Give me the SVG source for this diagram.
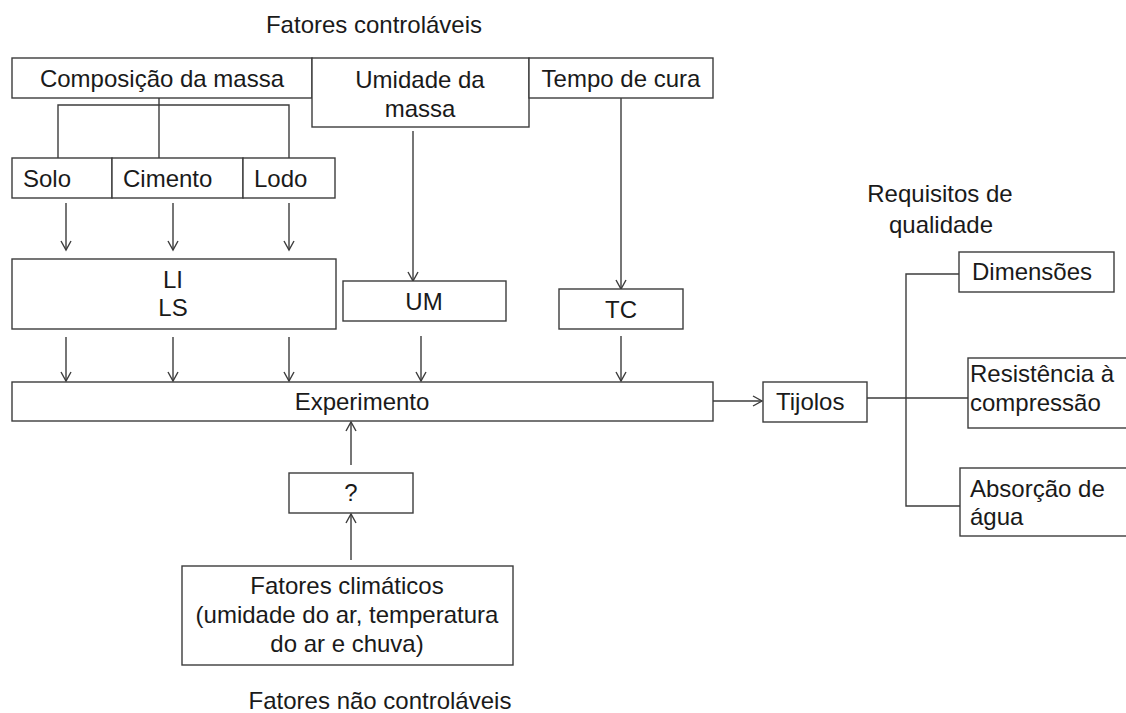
<svg xmlns="http://www.w3.org/2000/svg" width="1126" height="713" viewBox="0 0 1126 713">
<style>
.b{fill:#fff;stroke:#3c3c3c;stroke-width:1.4}
.t{font-family:"Liberation Sans",Arial,sans-serif;font-size:24px;fill:#1a1a1a}
.m{text-anchor:middle}
.c{fill:none;stroke:#3c3c3c;stroke-width:1.4}
.a{marker-end:url(#ah)}
</style>
<defs>
<marker id="ah" markerUnits="userSpaceOnUse" markerWidth="14" markerHeight="14" refX="11" refY="6" orient="auto" viewBox="0 0 14 12">
<path d="M2,1 L11,6 L2,11" fill="none" stroke="#3c3c3c" stroke-width="1.4"/>
</marker>
</defs>
<rect width="1126" height="713" fill="#fff"/>
<text class="t m" x="374" y="33">Fatores controláveis</text>
<text class="t m" x="940" y="202">Requisitos de</text>
<text class="t m" x="941" y="233">qualidade</text>
<text class="t m" x="380" y="709">Fatores não controláveis</text>
<g id="connectors">
<path class="c" d="M159,98 V158 M58,158 V105 H289 V158"/>
<path class="c a" d="M66,203 V250"/>
<path class="c a" d="M173,203 V250"/>
<path class="c a" d="M289,203 V250"/>
<path class="c a" d="M413,131 V281"/>
<path class="c a" d="M621,98 V289"/>
<path class="c a" d="M66,337 V381"/>
<path class="c a" d="M173,337 V381"/>
<path class="c a" d="M289,337 V381"/>
<path class="c a" d="M421,336 V381"/>
<path class="c a" d="M621,336 V381"/>
<path class="c a" d="M351,465 V422"/>
<path class="c a" d="M351,560 V514"/>
<path class="c a" d="M713,401 H762"/>
<path class="c" d="M867,398 H968 M959,274 H906 V506 H960"/>
</g>
<g id="n-composicao"><rect class="b" x="12" y="58" width="300" height="40"/><text class="t m" x="162" y="87">Composição da massa</text></g>
<g id="n-umidade"><rect class="b" x="312" y="58" width="217" height="69"/><text class="t m" x="420" y="88">Umidade da</text><text class="t m" x="420" y="117">massa</text></g>
<g id="n-tempo"><rect class="b" x="529" y="58" width="184" height="40"/><text class="t m" x="621" y="87">Tempo de cura</text></g>
<g id="n-solo"><rect class="b" x="12" y="158" width="100" height="40"/><text class="t" x="23" y="187">Solo</text></g>
<g id="n-cimento"><rect class="b" x="112" y="158" width="131" height="40"/><text class="t" x="123" y="187">Cimento</text></g>
<g id="n-lodo"><rect class="b" x="243" y="158" width="92" height="40"/><text class="t" x="254" y="187">Lodo</text></g>
<g id="n-lils"><rect class="b" x="12" y="259" width="324" height="70"/><text class="t m" x="173" y="288">LI</text><text class="t m" x="173" y="316">LS</text></g>
<g id="n-um"><rect class="b" x="343" y="281" width="163" height="40"/><text class="t m" x="424" y="310">UM</text></g>
<g id="n-tc"><rect class="b" x="559" y="289" width="124" height="40"/><text class="t m" x="621" y="318">TC</text></g>
<g id="n-experimento"><rect class="b" x="12" y="382" width="701" height="39"/><text class="t m" x="362" y="410">Experimento</text></g>
<g id="n-tijolos"><rect class="b" x="763" y="382" width="104" height="40"/><text class="t" x="776" y="410">Tijolos</text></g>
<g id="n-dimensoes"><rect class="b" x="959" y="252" width="155" height="40"/><text class="t" x="972" y="280">Dimensões</text></g>
<g id="n-resistencia"><rect class="b" x="968" y="358" width="170" height="70"/><text class="t" x="970" y="382">Resistência à</text><text class="t" x="970" y="411">compressão</text></g>
<g id="n-absorcao"><rect class="b" x="960" y="468" width="178" height="68"/><text class="t" x="970" y="497">Absorção de</text><text class="t" x="970" y="525">água</text></g>
<g id="n-q"><rect class="b" x="289" y="473" width="124" height="40"/><text class="t m" x="351" y="501">?</text></g>
<g id="n-fatores"><rect class="b" x="182" y="566" width="331" height="99"/><text class="t m" x="347" y="594">Fatores climáticos</text><text class="t m" x="347" y="623">(umidade do ar, temperatura</text><text class="t m" x="347" y="652">do ar e chuva)</text></g>
</svg>
